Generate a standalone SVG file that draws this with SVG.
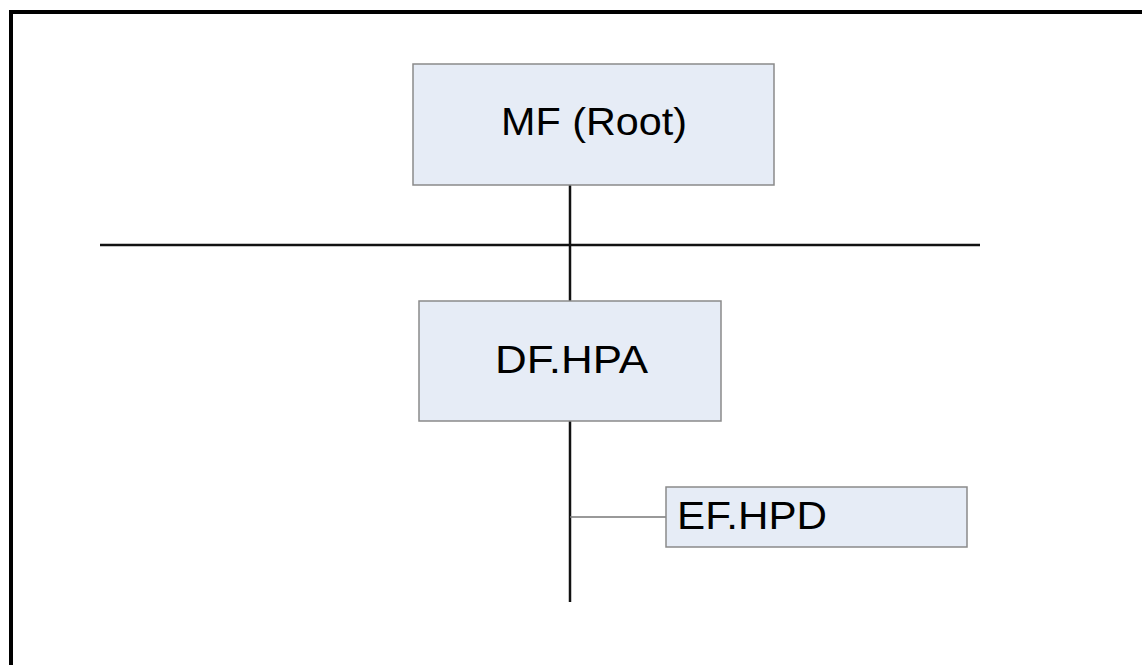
<svg xmlns="http://www.w3.org/2000/svg" width="1142" height="665" viewBox="0 0 1142 665">
<style>
.node rect{fill:#e6ecf6;stroke:#8a8a8a;stroke-width:1.5}
.node text{font-family:"Liberation Sans",Arial,sans-serif;fill:#000}
.conn{stroke:#111;stroke-width:2.5;fill:none}
.branch{stroke:#777;stroke-width:1.5;fill:none}
</style>
<rect x="0" y="0" width="1142" height="665" fill="#fff"/>
<path d="M11 680 V12 H1160" fill="none" stroke="#000" stroke-width="4"/>
<g id="connectors">
<line class="conn" x1="100" y1="245" x2="980" y2="245"/>
<line class="conn" x1="570" y1="185" x2="570" y2="301"/>
<line class="conn" x1="570" y1="421" x2="570" y2="602"/>
<line class="branch" x1="570" y1="517" x2="666" y2="517"/>
</g>
<g id="mf" class="node">
<rect x="413" y="64" width="361" height="121"/>
<text x="594" y="135" font-size="38" text-anchor="middle" textLength="186" lengthAdjust="spacingAndGlyphs">MF (Root)</text>
</g>
<g id="df" class="node">
<rect x="419" y="301" width="302" height="120"/>
<text x="571.5" y="373" font-size="39" text-anchor="middle" textLength="153" lengthAdjust="spacingAndGlyphs">DF.HPA</text>
</g>
<g id="ef" class="node">
<rect x="666" y="487" width="301" height="60"/>
<text x="677" y="529" font-size="39" textLength="150" lengthAdjust="spacingAndGlyphs">EF.HPD</text>
</g>
</svg>
